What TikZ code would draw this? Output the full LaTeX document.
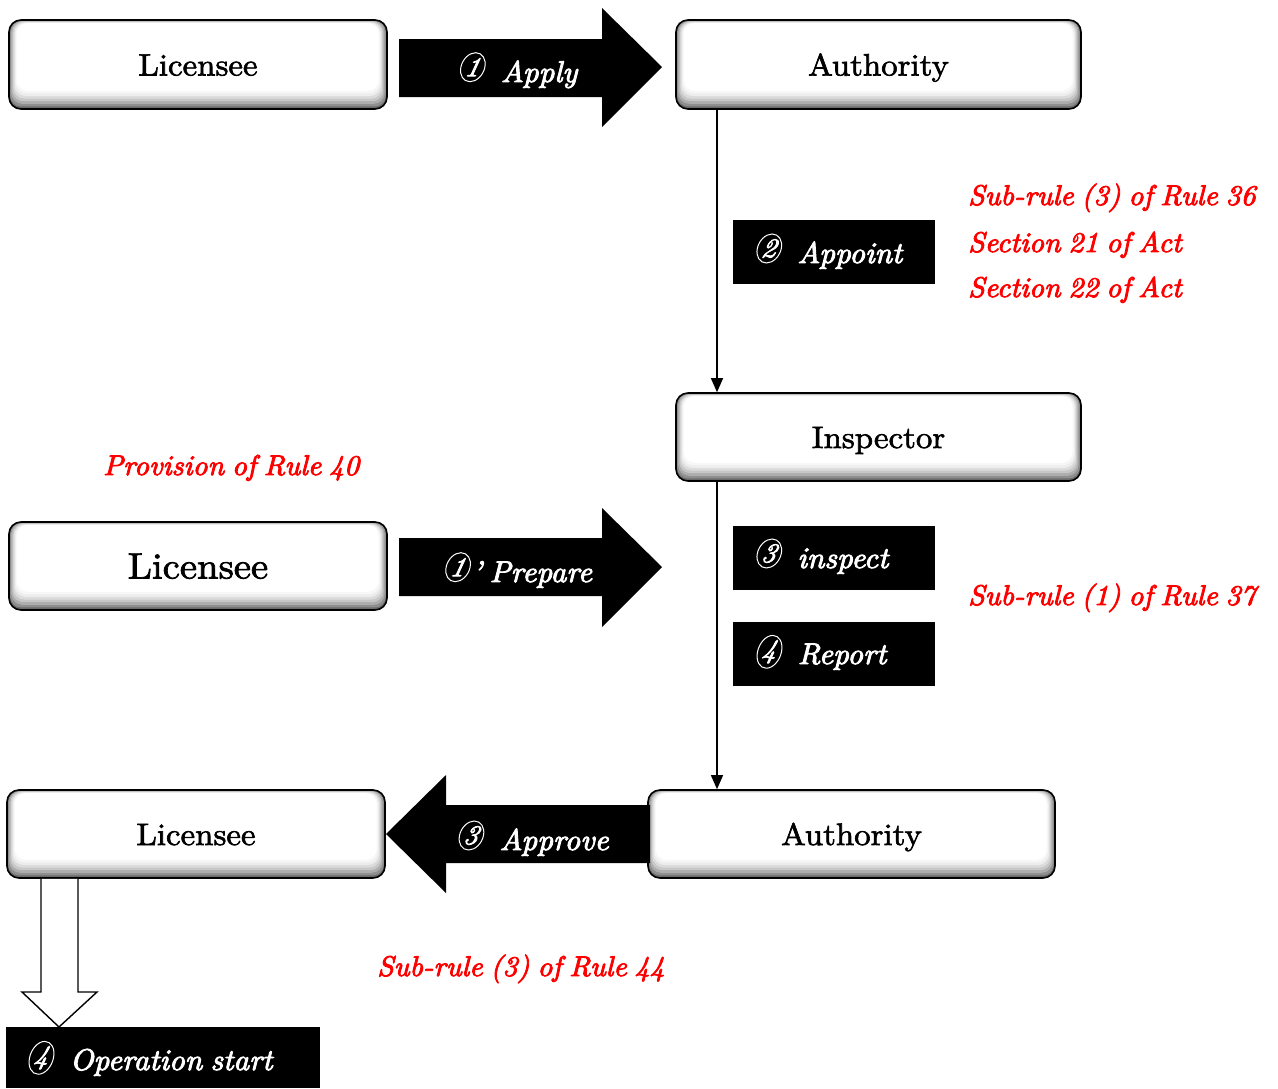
\documentclass[tikz,border=0pt]{standalone}
\usepackage{fontspec}
\newfontfamily\boxfont{lmroman10}[Extension=.otf, UprightFont=*-regular, ItalicFont=*-italic, FakeBold=2, FakeStretch=1.06]
\newfontfamily\labelfont{lmroman10}[Extension=.otf, UprightFont=*-regular, ItalicFont=*-italic, FakeBold=3, FakeStretch=1.03, WordSpace=0.75]
\usetikzlibrary{arrows.meta,shapes.geometric}
\definecolor{lawred}{RGB}{255,0,0}
% circled step number, slanted like the italic text around it
\newcommand\cnum[1]{\tikz[baseline=-0.45ex]{\node[ellipse, draw=white, line width=1pt, inner sep=0pt,
  minimum width=24pt, minimum height=29pt, xslant=0.2, transform shape, text=white,
  font=\labelfont\fontsize{27}{29}\selectfont\itshape] {#1};}}
\begin{document}
\begin{tikzpicture}[x=1pt,y=-1pt,
  bevelbox/.style={rounded corners=12pt, draw=black, line width=1.6pt, fill=black!58,
    inner sep=0pt, text height=22pt, text depth=0pt,
    font=\boxfont\fontsize{31}{34}\selectfont,
    path picture={
      \foreach \k/\c in {1/44,2/32,3/22,4/14,5/7,6/3,7/0}{
        \fill[black!\c, rounded corners=11pt]
          ([shift={(\k*1.1pt,\k*2.6pt)}]path picture bounding box.south west) rectangle
          ([shift={(-\k*1.2pt,-\k*0.45pt)}]path picture bounding box.north east);
      }
    }},
  tag/.style={fill=black, inner sep=0pt, anchor=north west},
  tagtext/.style={text=white, anchor=base west, inner sep=0pt,
    font=\labelfont\fontsize{30}{34}\selectfont\itshape},
  arrowtext/.style={text=white, anchor=base, inner sep=0pt,
    font=\labelfont\fontsize{30}{34}\selectfont\itshape},
  blockarrow/.style={fill=black},
  hollowarrow/.style={fill=white, draw=black, line width=1.4pt, line join=miter},
  conn/.style={line width=1.2pt, -{Triangle[length=14pt,width=12pt]}},
  rule/.style={text=lawred, anchor=base west, inner sep=0pt,
    font=\labelfont\fontsize{28.5}{32}\selectfont\itshape}
]
\useasboundingbox (0,0) rectangle (1278,1088);

% ---- boxes ----
\node[bevelbox, minimum width=378, minimum height=89] (lic1) at (198,64.5) {Licensee};
\node[bevelbox, minimum width=405, minimum height=89] (auth1) at (878.5,64.5) {Authority};
\node[bevelbox, minimum width=405, minimum height=88] (insp) at (878.5,437) {Inspector};
\node[bevelbox, minimum width=378, minimum height=88, text height=25pt,
      font=\boxfont\fontsize{36.5}{40}\selectfont] (lic2) at (198,566) {Licensee};
\node[bevelbox, minimum width=378, minimum height=88] (lic3) at (196,834) {Licensee};
\node[bevelbox, minimum width=407, minimum height=88] (auth3) at (851.5,834) {Authority};

% ---- block arrows ----
\fill[blockarrow] (399,39) -- (602,39) -- (602,8) -- (662,67) -- (602,127) -- (602,97) -- (399,97) -- cycle;
\node[arrowtext] (apply) at (518,82) {\cnum{1}\hspace{14pt}Apply};

\fill[blockarrow] (399,538) -- (602,538) -- (602,508) -- (662,567) -- (602,627) -- (602,596) -- (399,596) -- cycle;
\node[arrowtext] (prepare) at (518,582) {\cnum{1}’\hspace{8pt}Prepare};

\fill[blockarrow] (650,805) -- (446,805) -- (446,775) -- (386,834) -- (446,893) -- (446,863) -- (650,863) -- cycle;
\node[arrowtext] (approve) at (533,850) {\cnum{3}\hspace{14pt}Approve};

% ---- vertical connectors ----
\coordinate (vx) at (717,0);
\draw[conn] (auth1.south -| vx) -- (insp.north -| vx);
\draw[conn] (insp.south -| vx) -- (auth3.north -| vx);

% ---- step tags ----
\node[tag, minimum width=202, minimum height=64] (appointbox) at (733,220) {};
\node[tagtext] (appoint) at (755,263) {\cnum{2}\hspace{14pt}Appoint};
\node[tag, minimum width=202, minimum height=64] (inspectbox) at (733,526) {};
\node[tagtext] (inspect) at (755,568) {\cnum{3}\hspace{14pt}inspect};
\node[tag, minimum width=202, minimum height=64] (reportbox) at (733,622) {};
\node[tagtext] (report) at (755,664) {\cnum{4}\hspace{14pt}Report};

% ---- operation start ----
\node[tag, minimum width=314, minimum height=61] (opbox) at (6,1027) {};
\node[tagtext] (opstart) at (27,1070) {\cnum{4}\hspace{14pt}Operation start};
\coordinate (hl) at (41,0);
\coordinate (hr) at (78,0);
\coordinate (hm) at (59,0);
\draw[hollowarrow] (lic3.south -| hl) -- (41,992) -- (22,992) -- (opbox.north -| hm) -- (97,992) -- (78,992) -- (lic3.south -| hr);

% ---- legal references ----
\node[rule] (r36) at (968,205) {Sub-rule (3) of Rule 36};
\node[rule] (s21) at (968,252) {Section 21 of Act};
\node[rule] (s22) at (968,297) {Section 22 of Act};
\node[rule] (r37) at (968,605) {Sub-rule (1) of Rule 37};
\node[rule] (r40) at (103,475) {Provision of Rule 40};
\node[rule] (r44) at (377,976) {Sub-rule (3) of Rule 44};
\end{tikzpicture}
\end{document}
